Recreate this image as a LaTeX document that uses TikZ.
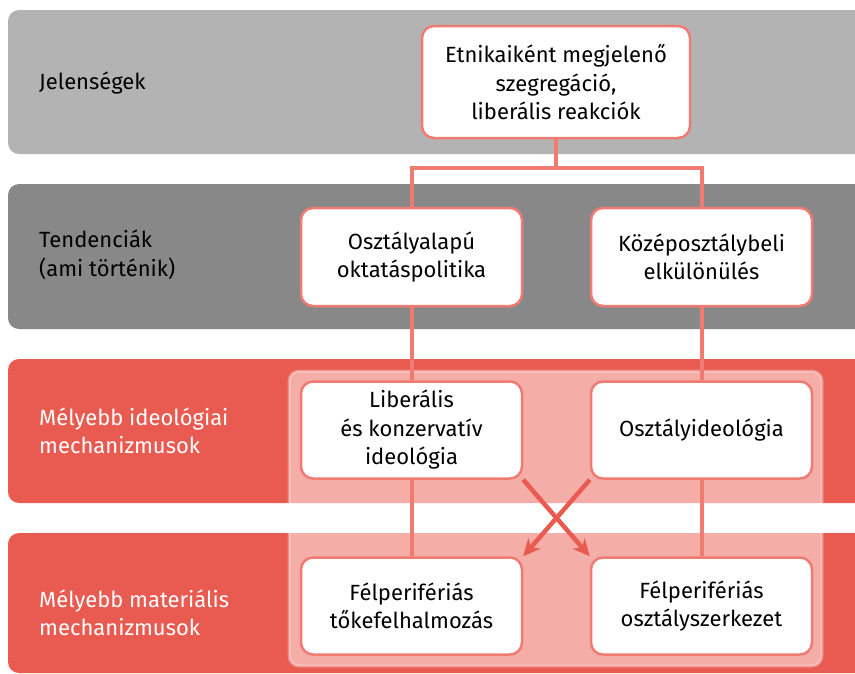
\documentclass[tikz,border=0pt]{standalone}
\usepackage{fontspec}
\setmainfont{Fira Sans}
\usetikzlibrary{arrows.meta}
\definecolor{lgrey}{HTML}{B3B3B3}
\definecolor{dgrey}{HTML}{888888}
\definecolor{band}{HTML}{E95B50}
\definecolor{salmon}{HTML}{F07B72}
\tikzset{
  box/.style={draw=salmon,line width=2.5pt,fill=white,rounded corners=12pt,
    minimum width=221pt,minimum height=97pt,align=center,inner sep=0pt,
    font=\fontsize{22}{28.5}\selectfont},
  lbl/.style={anchor=west,align=left,inner sep=0pt,font=\fontsize{22}{28.5}\selectfont},
  link/.style={salmon,line width=4pt},
  cross/.style={band,line width=4.5pt,-{Stealth[length=17pt,width=16pt]}}
}
\begin{document}
\begin{tikzpicture}[x=1pt,y=-1pt]
        \useasboundingbox (0,0) rectangle (855,673);
        \clip (0,0) rectangle (855,673);
        % sávok
        \fill[lgrey,rounded corners=11pt] (8,10) rectangle (875,154);
        \fill[dgrey,rounded corners=11pt] (8,184) rectangle (875,329);
        \fill[band,rounded corners=11pt] (8,359) rectangle (875,503);
        \fill[band,rounded corners=11pt] (8,533) rectangle (875,673);
        \node[lbl] (jel) at (39,83) {Jelenségek};
        \node[lbl] (ten) at (39,255) {Tendenciák\\(ami történik)};
        \node[lbl,white] (ideo) at (39,431) {Mélyebb ideológiai\\mechanizmusok};
        \node[lbl,white] (mat) at (39,613) {Mélyebb materiális\\mechanizmusok};
        % áttetsző keret
        \fill[white,fill opacity=.5,rounded corners=10pt] (289,371) rectangle (822,666);
        \draw[white,opacity=.3,line width=3pt,rounded corners=10pt] (289,371) rectangle (822,666);
        % dobozok
        \node[box,minimum width=268pt,minimum height=112pt] (top) at (556,82) {Etnikaiként megjelenő\\szegregáció,\\liberális reakciók};
        \node[box,minimum height=98pt] (osz) at (411.5,257) {Osztályalapú\\oktatáspolitika};
        \node[box,minimum height=98pt] (koz) at (701.5,257) {Középosztálybeli\\elkülönülés};
        \node[box] (lib) at (411.5,430) {Liberális\\és konzervatív\\ideológia};
        \node[box] (oid) at (701.5,430) {Osztályideológia};
        \node[box] (tok) at (411.5,606) {Félperifériás\\tőkefelhalmozás};
        \node[box] (szk) at (701.5,606) {Félperifériás\\osztályszerkezet};
        % kapcsolatok
        \coordinate (fork) at (556,168);
        \draw[link] (top) -- (fork) -| (osz);
        \draw[link] (fork) -| (koz);
        \draw[link] (osz) -- (lib);
        \draw[link] (lib) -- (tok);
        \draw[link] (koz) -- (oid);
        \draw[link] (oid) -- (szk);
        \draw[cross] (lib.south east) -- (szk.north west);
        \draw[cross] (oid.south west) -- (tok.north east);
\end{tikzpicture}
\end{document}
